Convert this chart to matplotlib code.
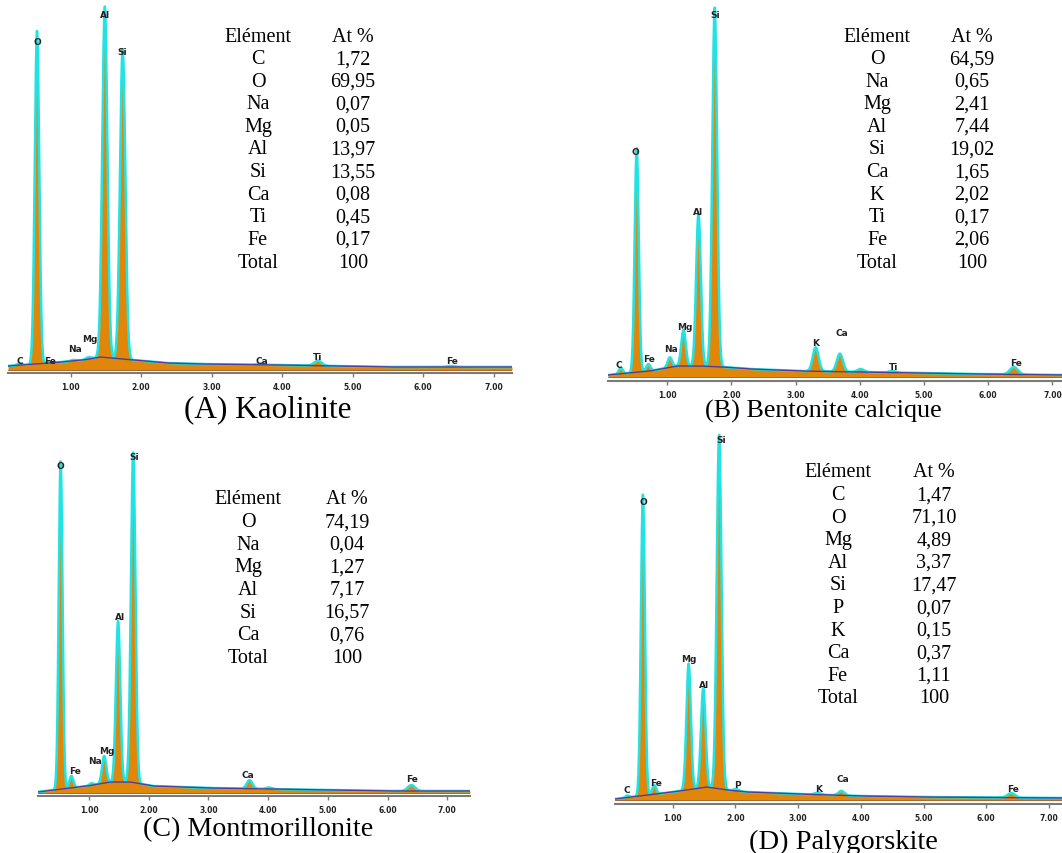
import numpy as np
import matplotlib
matplotlib.use("Agg")
import matplotlib.pyplot as plt

W, H = 1062, 854

# ---------------- data ----------------
# Panel A: Kaolinite
A_peak_lines = ["C", "O", "Fe", "Na", "Mg", "Al", "Si", "Ca", "Ti", "Fe"]
A_peak_energy = [0.277, 0.525, 0.705, 1.041, 1.254, 1.487, 1.740, 3.690, 4.510, 6.400]
A_peak_amp = [2, 333, 1, 1, 2, 351, 310, 1, 5, 1]
A_bg_energy = [0.11, 0.71, 1.18, 1.42, 1.89, 2.36, 2.84, 4.0, 5.5, 7.3]
A_bg_level = [7, 10, 13, 16, 13, 10, 9, 8, 6, 6]
A_table_elements = ["C", "O", "Na", "Mg", "Al", "Si", "Ca", "Ti", "Fe", "Total"]
A_table_values = ["1,72", "69,95", "0,07", "0,05", "13,97", "13,55", "0,08", "0,45", "0,17", "100"]

# Panel B: Bentonite calcique
B_peak_lines = ["C", "O", "Fe", "Na", "Mg", "Al", "Si", "K", "Ca", "Ca", "Ti", "Fe"]
B_peak_energy = [0.277, 0.525, 0.705, 1.041, 1.254, 1.487, 1.740, 3.313, 3.690, 4.013, 4.510, 6.400]
B_peak_amp = [6, 224, 7, 10, 36, 152, 359, 24, 18, 3, 1.5, 7.5]
B_bg_energy = [0.08, 0.73, 1.15, 1.51, 1.87, 2.29, 3.07, 5.0, 5.8, 7.2]
B_bg_level = [6, 10, 15, 15, 14, 12, 10, 8, 7, 6]
B_table_elements = ["O", "Na", "Mg", "Al", "Si", "Ca", "K", "Ti", "Fe", "Total"]
B_table_values = ["64,59", "0,65", "2,41", "7,44", "19,02", "1,65", "2,02", "0,17", "2,06", "100"]

# Panel C: Montmorillonite
C_peak_lines = ["O", "Fe", "Na", "Mg", "Al", "Si", "Ca", "Ca", "Fe"]
C_peak_energy = [0.525, 0.705, 1.041, 1.254, 1.487, 1.740, 3.690, 4.013, 6.400]
C_peak_amp = [328, 12, 2, 27, 161, 330, 8.5, 1.5, 6]
C_bg_energy = [0.14, 0.97, 1.35, 1.69, 2.07, 3.0, 4.0, 5.0, 6.0, 7.4]
C_bg_level = [4, 10, 14, 14, 10, 8, 7, 6, 5, 5]
C_table_elements = ["O", "Na", "Mg", "Al", "Si", "Ca", "Total"]
C_table_values = ["74,19", "0,04", "1,27", "7,17", "16,57", "0,76", "100"]

# Panel D: Palygorskite
D_peak_lines = ["C", "O", "Fe", "Mg", "Al", "Si", "P", "K", "Ca", "Fe"]
D_peak_energy = [0.277, 0.525, 0.705, 1.254, 1.487, 1.740, 2.013, 3.313, 3.690, 6.400]
D_peak_amp = [2, 301, 9, 126, 99, 354, 2, 2, 4.5, 4.5]
D_bg_energy = [0.08, 1.0, 1.54, 1.87, 2.18, 3.0, 4.0, 4.94, 7.25]
D_bg_level = [5, 12, 17, 14, 12, 10, 8, 7, 6]
D_table_elements = ["C", "O", "Mg", "Al", "Si", "P", "K", "Ca", "Fe", "Total"]
D_table_values = ["1,47", "71,10", "4,89", "3,37", "17,47", "0,07", "0,15", "0,37", "1,11", "100"]

tick_values = [1, 2, 3, 4, 5, 6, 7]
tick_labels = ["1.00", "2.00", "3.00", "4.00", "5.00", "6.00", "7.00"]

captions = ["(A) Kaolinite", "(B) Bentonite calcique", "(C) Montmorillonite", "(D) Palygorskite"]

# ---------------- layout (pixels) ----------------
layout = {
    "A": dict(e0=0.0, ppk=70.5, axis_y=374, left=8, right=512, top=3, base=3,
              labels=[("C", 0.28, 361), ("O", 0.525, 42), ("Fe", 0.71, 361), ("Na", 1.06, 350),
                      ("Mg", 1.28, 339), ("Al", 1.487, 15), ("Si", 1.74, 52), ("Ca", 3.72, 361),
                      ("Ti", 4.51, 357), ("Fe", 6.41, 362)],
              table=(258, 353, 37), caption=(268, 410, 22.5)),
    "B": dict(e0=603.0, ppk=64.2, axis_y=382, left=608, right=1062, top=5, base=4,
              labels=[("C", 0.25, 365), ("O", 0.51, 152), ("Fe", 0.72, 360), ("Na", 1.06, 349),
                      ("Mg", 1.28, 327), ("Al", 1.48, 212), ("Si", 1.745, 15), ("K", 3.31, 343),
                      ("Ca", 3.72, 334), ("Ti", 4.52, 367), ("Fe", 6.44, 363)],
              table=(877, 972, 37), caption=(823, 411, 18.8)),
    "C": dict(e0=29.3, ppk=59.7, axis_y=797, left=38, right=470, top=445, base=3,
              labels=[("O", 0.52, 467), ("Fe", 0.77, 772), ("Na", 1.10, 762), ("Mg", 1.30, 752),
                      ("Al", 1.52, 618), ("Si", 1.76, 458), ("Ca", 3.66, 776), ("Fe", 6.41, 780)],
              table=(248, 347, 500), caption=(258, 830, 20.2)),
    "D": dict(e0=610.0, ppk=62.7, axis_y=805, left=615, right=1062, top=425, base=4,
              labels=[("C", 0.27, 791), ("O", 0.53, 503), ("Fe", 0.74, 783), ("Mg", 1.26, 660),
                      ("Al", 1.50, 685), ("Si", 1.77, 441), ("P", 2.03, 785), ("K", 3.33, 789),
                      ("Ca", 3.71, 780), ("Fe", 6.43, 790)],
              table=(838, 934, 473), caption=(843, 842, 20.5)),
}

panels = {
    "A": (A_peak_energy, A_peak_amp, A_bg_energy, A_bg_level, A_table_elements, A_table_values),
    "B": (B_peak_energy, B_peak_amp, B_bg_energy, B_bg_level, B_table_elements, B_table_values),
    "C": (C_peak_energy, C_peak_amp, C_bg_energy, C_bg_level, C_table_elements, C_table_values),
    "D": (D_peak_energy, D_peak_amp, D_bg_energy, D_bg_level, D_table_elements, D_table_values),
}

ORANGE = "#E0870A"
CYAN = "#22E3E3"
BGLINE = "#4B3F9E"
SERIF = ["Liberation Serif", "DejaVu Serif"]

fig = plt.figure(figsize=(W / 100, H / 100), dpi=100)

for key, cap in zip(["A", "B", "C", "D"], captions):
    L = layout[key]
    pe, pa, be, bl, tel, tva = panels[key]
    ax = fig.add_axes([L["left"] / W, 1 - L["axis_y"] / H,
                       (L["right"] - L["left"]) / W, (L["axis_y"] - L["top"]) / H])
    xmin = (L["left"] - L["e0"]) / L["ppk"]
    xmax = (L["right"] - L["e0"]) / L["ppk"]
    E = np.linspace(xmin, xmax, 4000)
    bg = np.interp(E, be, bl)
    spec = bg.copy()
    for e, a in zip(pe, pa):
        s = 0.029 + 0.005 * e
        spec += a * np.exp(-0.5 * ((E - e) / s) ** 2)
    ax.fill_between(E, L["base"], spec, color=ORANGE, lw=0, zorder=1)
    ax.plot(E, spec, color=CYAN, lw=1.8, zorder=2, solid_joinstyle="round")
    ax.plot(E, bg, color=BGLINE, lw=1.0, zorder=3)
    ax.plot([xmin, xmax], [L["base"], L["base"]], color="#9a5a20", lw=0.6, zorder=3)
    ax.set_xlim(xmin, xmax)
    ax.set_ylim(0, L["axis_y"] - L["top"])
    for sp in ["top", "right", "left"]:
        ax.spines[sp].set_visible(False)
    ax.spines["bottom"].set_color("#7a7a7a")
    ax.spines["bottom"].set_linewidth(1.5)
    ax.set_yticks([])
    ax.set_xticks(tick_values)
    ax.set_xticklabels(tick_labels)
    ax.tick_params(axis="x", length=3, width=1, color="#7a7a7a", labelsize=5.5,
                   labelcolor="#222222", pad=3.5)
    for t in ax.get_xticklabels():
        t.set_fontweight("bold")
    ax.patch.set_alpha(0)
    for txt, e, ypx in L["labels"]:
        ax.text(e, L["axis_y"] - ypx, txt, ha="center", va="center", fontsize=6.5,
                fontweight="bold", color="#222222", zorder=5)

    # table
    cx1, cx2, y0 = L["table"]
    step = 22.6
    fig.text(cx1 / W, 1 - y0 / H, "Elément", ha="center", va="center", fontsize=14.5, family=SERIF)
    fig.text(cx2 / W, 1 - y0 / H, "At %", ha="center", va="center", fontsize=14.5, family=SERIF)
    for i, (el, v) in enumerate(zip(tel, tva)):
        yy = y0 + (i + 1) * step
        fig.text(cx1 / W, 1 - yy / H, el, ha="center", va="center", fontsize=14.5, family=SERIF)
        fig.text(cx2 / W, 1 - yy / H, v, ha="center", va="center", fontsize=14.5, family=SERIF)

    cxp, cyp, cfs = L["caption"]
    fig.text(cxp / W, 1 - cyp / H, cap, ha="center", va="center", fontsize=cfs, family=SERIF)

fig.savefig("out.png", dpi=100)
